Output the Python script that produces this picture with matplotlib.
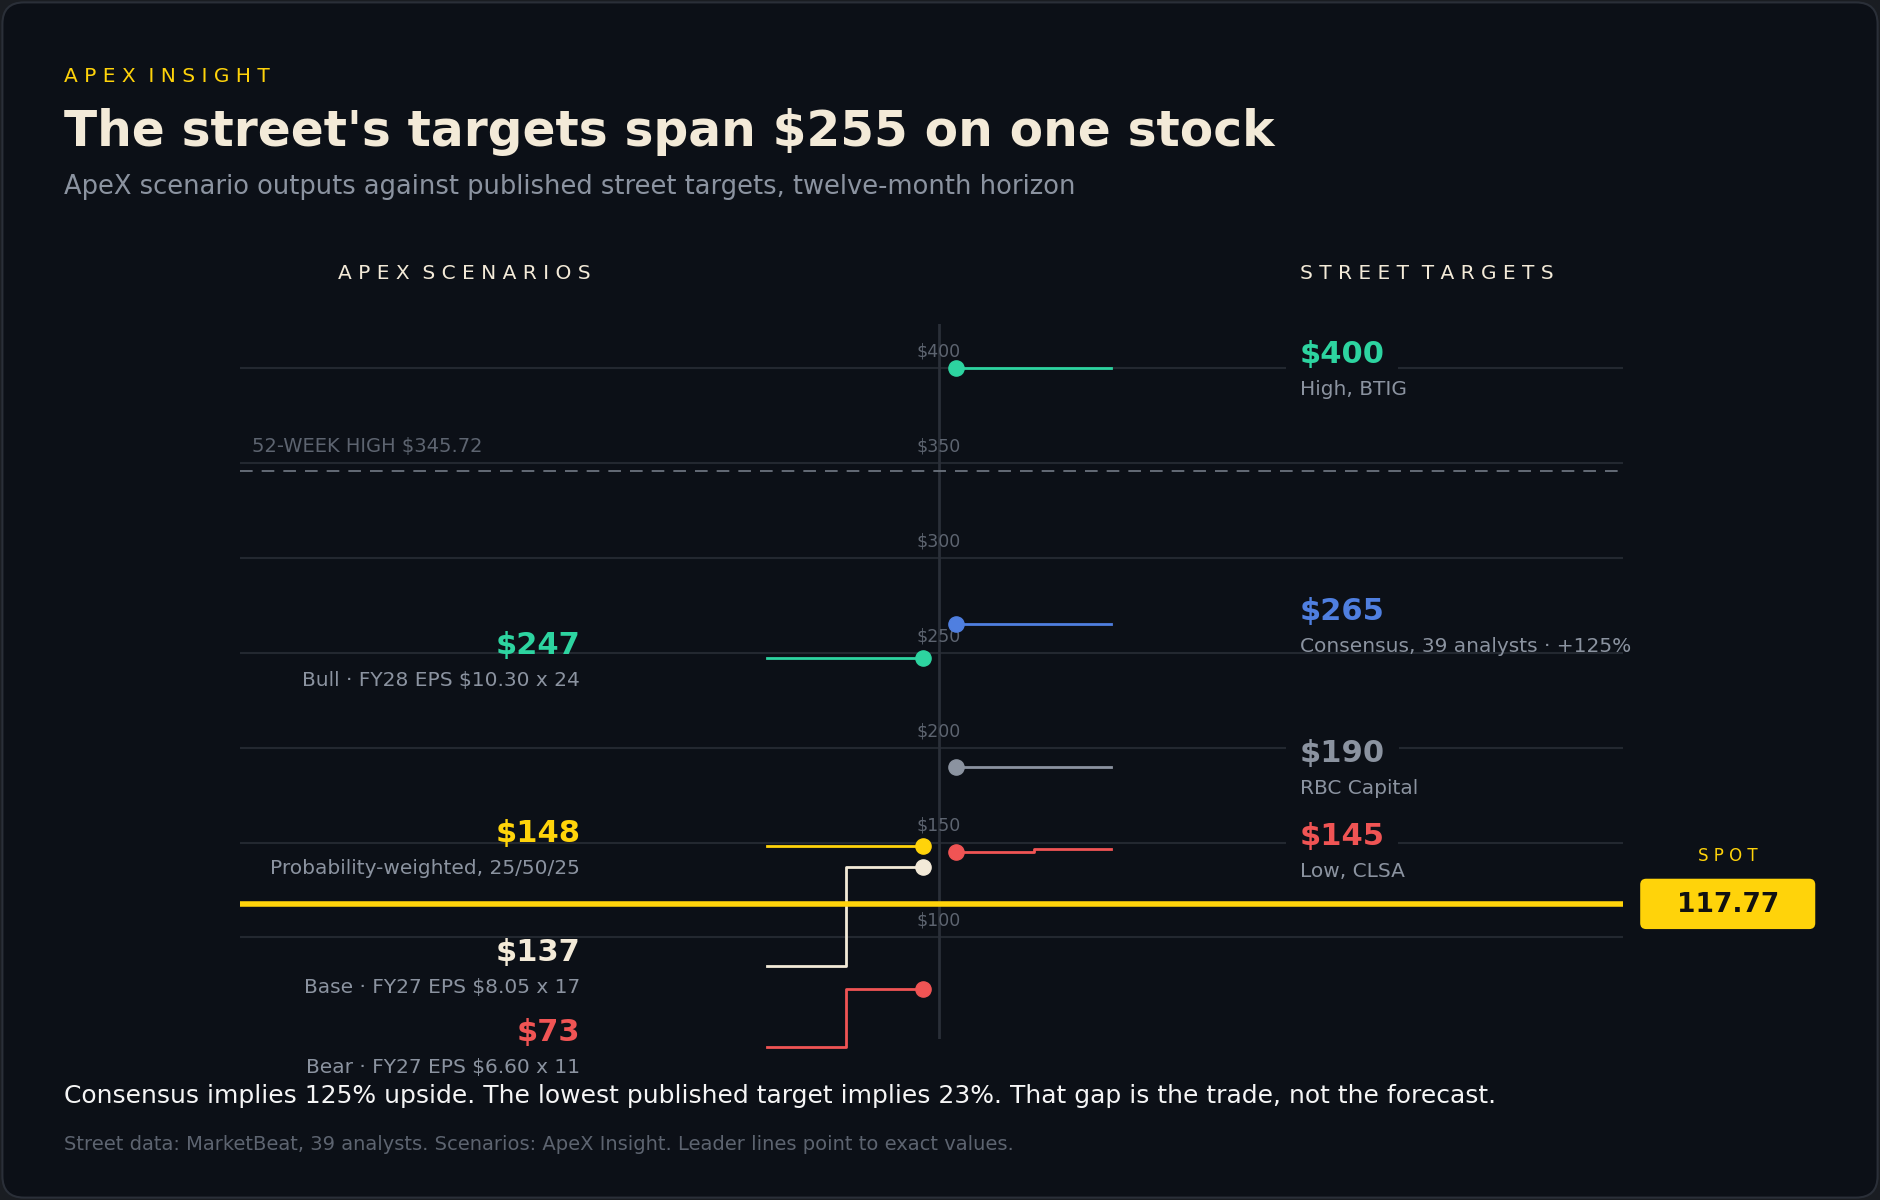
import matplotlib
matplotlib.use("Agg")
import matplotlib.pyplot as plt
from matplotlib.patches import FancyBboxPatch

W, H = 1568, 1001  # layout units (scaled to 1880x1200)
BG = "#0c1017"; GRID = "#232830"; MUTED = "#8b93a0"; CREAM = "#f3ead8"; GOLD = "#ffd30a"

grid_vals = [100, 150, 200, 250, 300, 350, 400]
street_vals = [400, 265, 190, 145]
street_labels = ["High, BTIG", "Consensus, 39 analysts · +125%", "RBC Capital", "Low, CLSA"]
street_colors = ["#2dd4a0", "#4f7fe0", "#8b93a0", "#f05454"]
street_label_y = [407, 272, 197, 153]
scen_vals = [247, 148, 137, 73]
scen_labels = ["Bull · FY28 EPS $10.30 x 24", "Probability-weighted, 25/50/25",
               "Base · FY27 EPS $8.05 x 17", "Bear · FY27 EPS $6.60 x 11"]
scen_colors = ["#2dd4a0", GOLD, CREAM, "#f05454"]
scen_label_y = [254, 155, 92, 50]
spot = 117.77
high52 = 345.72

fig = plt.figure(figsize=(18.8, 12), dpi=100, facecolor="#1a1d22")
bgax = fig.add_axes([0, 0, 1, 1]); bgax.set_xlim(0, W); bgax.set_ylim(H, 0); bgax.axis("off")
bgax.add_patch(FancyBboxPatch((2, 2), W-4, H-4, boxstyle="round,pad=0,rounding_size=18",
                              fc=BG, ec="#2a2f38", lw=1.5))

ax = fig.add_axes([200/W, 1-867/H, (1354-200)/W, (867-270)/H])
ax.set_facecolor("none")
ax.set_xlim(200, 1354)
ax.set_ylim(46.3, 423.4)
ax.axis("off")

for v in grid_vals:
    ax.plot([200, 1354], [v, v], color=GRID, lw=1.5, zorder=1)
    ax.text(783, v+4, f"${v}", color="#5d6470", fontsize=12.5, ha="center", va="bottom", zorder=3)
ax.plot([783, 783], [46.3, 423.4], color="#2a2f38", lw=2, zorder=1)

ax.plot([200, 1354], [high52, high52], color="#6b727d", lw=1.3, ls=(0, (7, 5)), zorder=2)
ax.text(210, high52+8, f"52-WEEK HIGH ${high52:.2f}", color="#5d6470", fontsize=14, va="bottom")

ax.plot([200, 1354], [spot, spot], color=GOLD, lw=4, zorder=4)

fs_big, fs_small = 22, 14.5
for v, lab, c, ly in zip(street_vals, street_labels, street_colors, street_label_y):
    if v == 145:
        ax.plot([797, 862, 862, 927], [v, v, 146.7, 146.7], color=c, lw=2, zorder=3)
    else:
        ax.plot([797, 927], [v, v], color=c, lw=2, zorder=3)
    ax.scatter([797], [v], s=120, color=c, zorder=5)
    ax.text(1084, ly, f"${v}", color=c, fontsize=fs_big, fontweight="bold", va="center",
            bbox=dict(fc=BG, ec="none", pad=10), zorder=3)
    ax.text(1084, ly-18.5, lab, color=MUTED, fontsize=fs_small, va="center", zorder=3)

base_drop = [None, None, 84.8, 42.5]
for v, lab, c, ly, d in zip(scen_vals, scen_labels, scen_colors, scen_label_y, base_drop):
    if d is None:
        ax.plot([640, 770], [v, v], color=c, lw=2, zorder=3)
    else:
        ax.plot([640, 706, 706, 770], [d, d, v, v], color=c, lw=2, zorder=3, clip_on=False)
    ax.scatter([770], [v], s=120, color=c, zorder=5)
    ax.text(484, ly, f"${v}", color=c, fontsize=fs_big, fontweight="bold", va="center", ha="right",
            clip_on=False)
    ax.text(484, ly-18.5, lab, color=MUTED, fontsize=fs_small, va="center", ha="right", clip_on=False)

def t(x, y, s, **kw):
    bgax.text(x, y, s, **kw)
t(53, 64, "A P E X  I N S I G H T", color=GOLD, fontsize=14.5, va="center")
t(53, 110, "The street's targets span $255 on one stock", color=CREAM, fontsize=35,
  fontweight="bold", va="center")
t(53, 156, "ApeX scenario outputs against published street targets, twelve-month horizon",
  color=MUTED, fontsize=18.5, va="center")
t(387, 228, "A P E X  S C E N A R I O S", color=CREAM, fontsize=14.5, va="center", ha="center")
t(1084, 228, "S T R E E T  T A R G E T S", color=CREAM, fontsize=14.5, va="center")
t(1441, 714, "S P O T", color=GOLD, fontsize=12, va="center", ha="center")
bgax.add_patch(FancyBboxPatch((1368, 733), 146, 42, boxstyle="round,pad=0,rounding_size=5",
                              fc=GOLD, ec="none"))
t(1441, 755, f"{spot:.2f}", color="#111111", fontsize=19, fontweight="bold", va="center", ha="center")
t(53, 914, "Consensus implies 125% upside. The lowest published target implies 23%. That gap is the trade, not the forecast.",
  color="#f5f5f5", fontsize=18, va="center")
t(53, 955, "Street data: MarketBeat, 39 analysts. Scenarios: ApeX Insight. Leader lines point to exact values.",
  color="#5d6470", fontsize=14, va="center")

fig.savefig("out.png", dpi=100, facecolor=fig.get_facecolor())
